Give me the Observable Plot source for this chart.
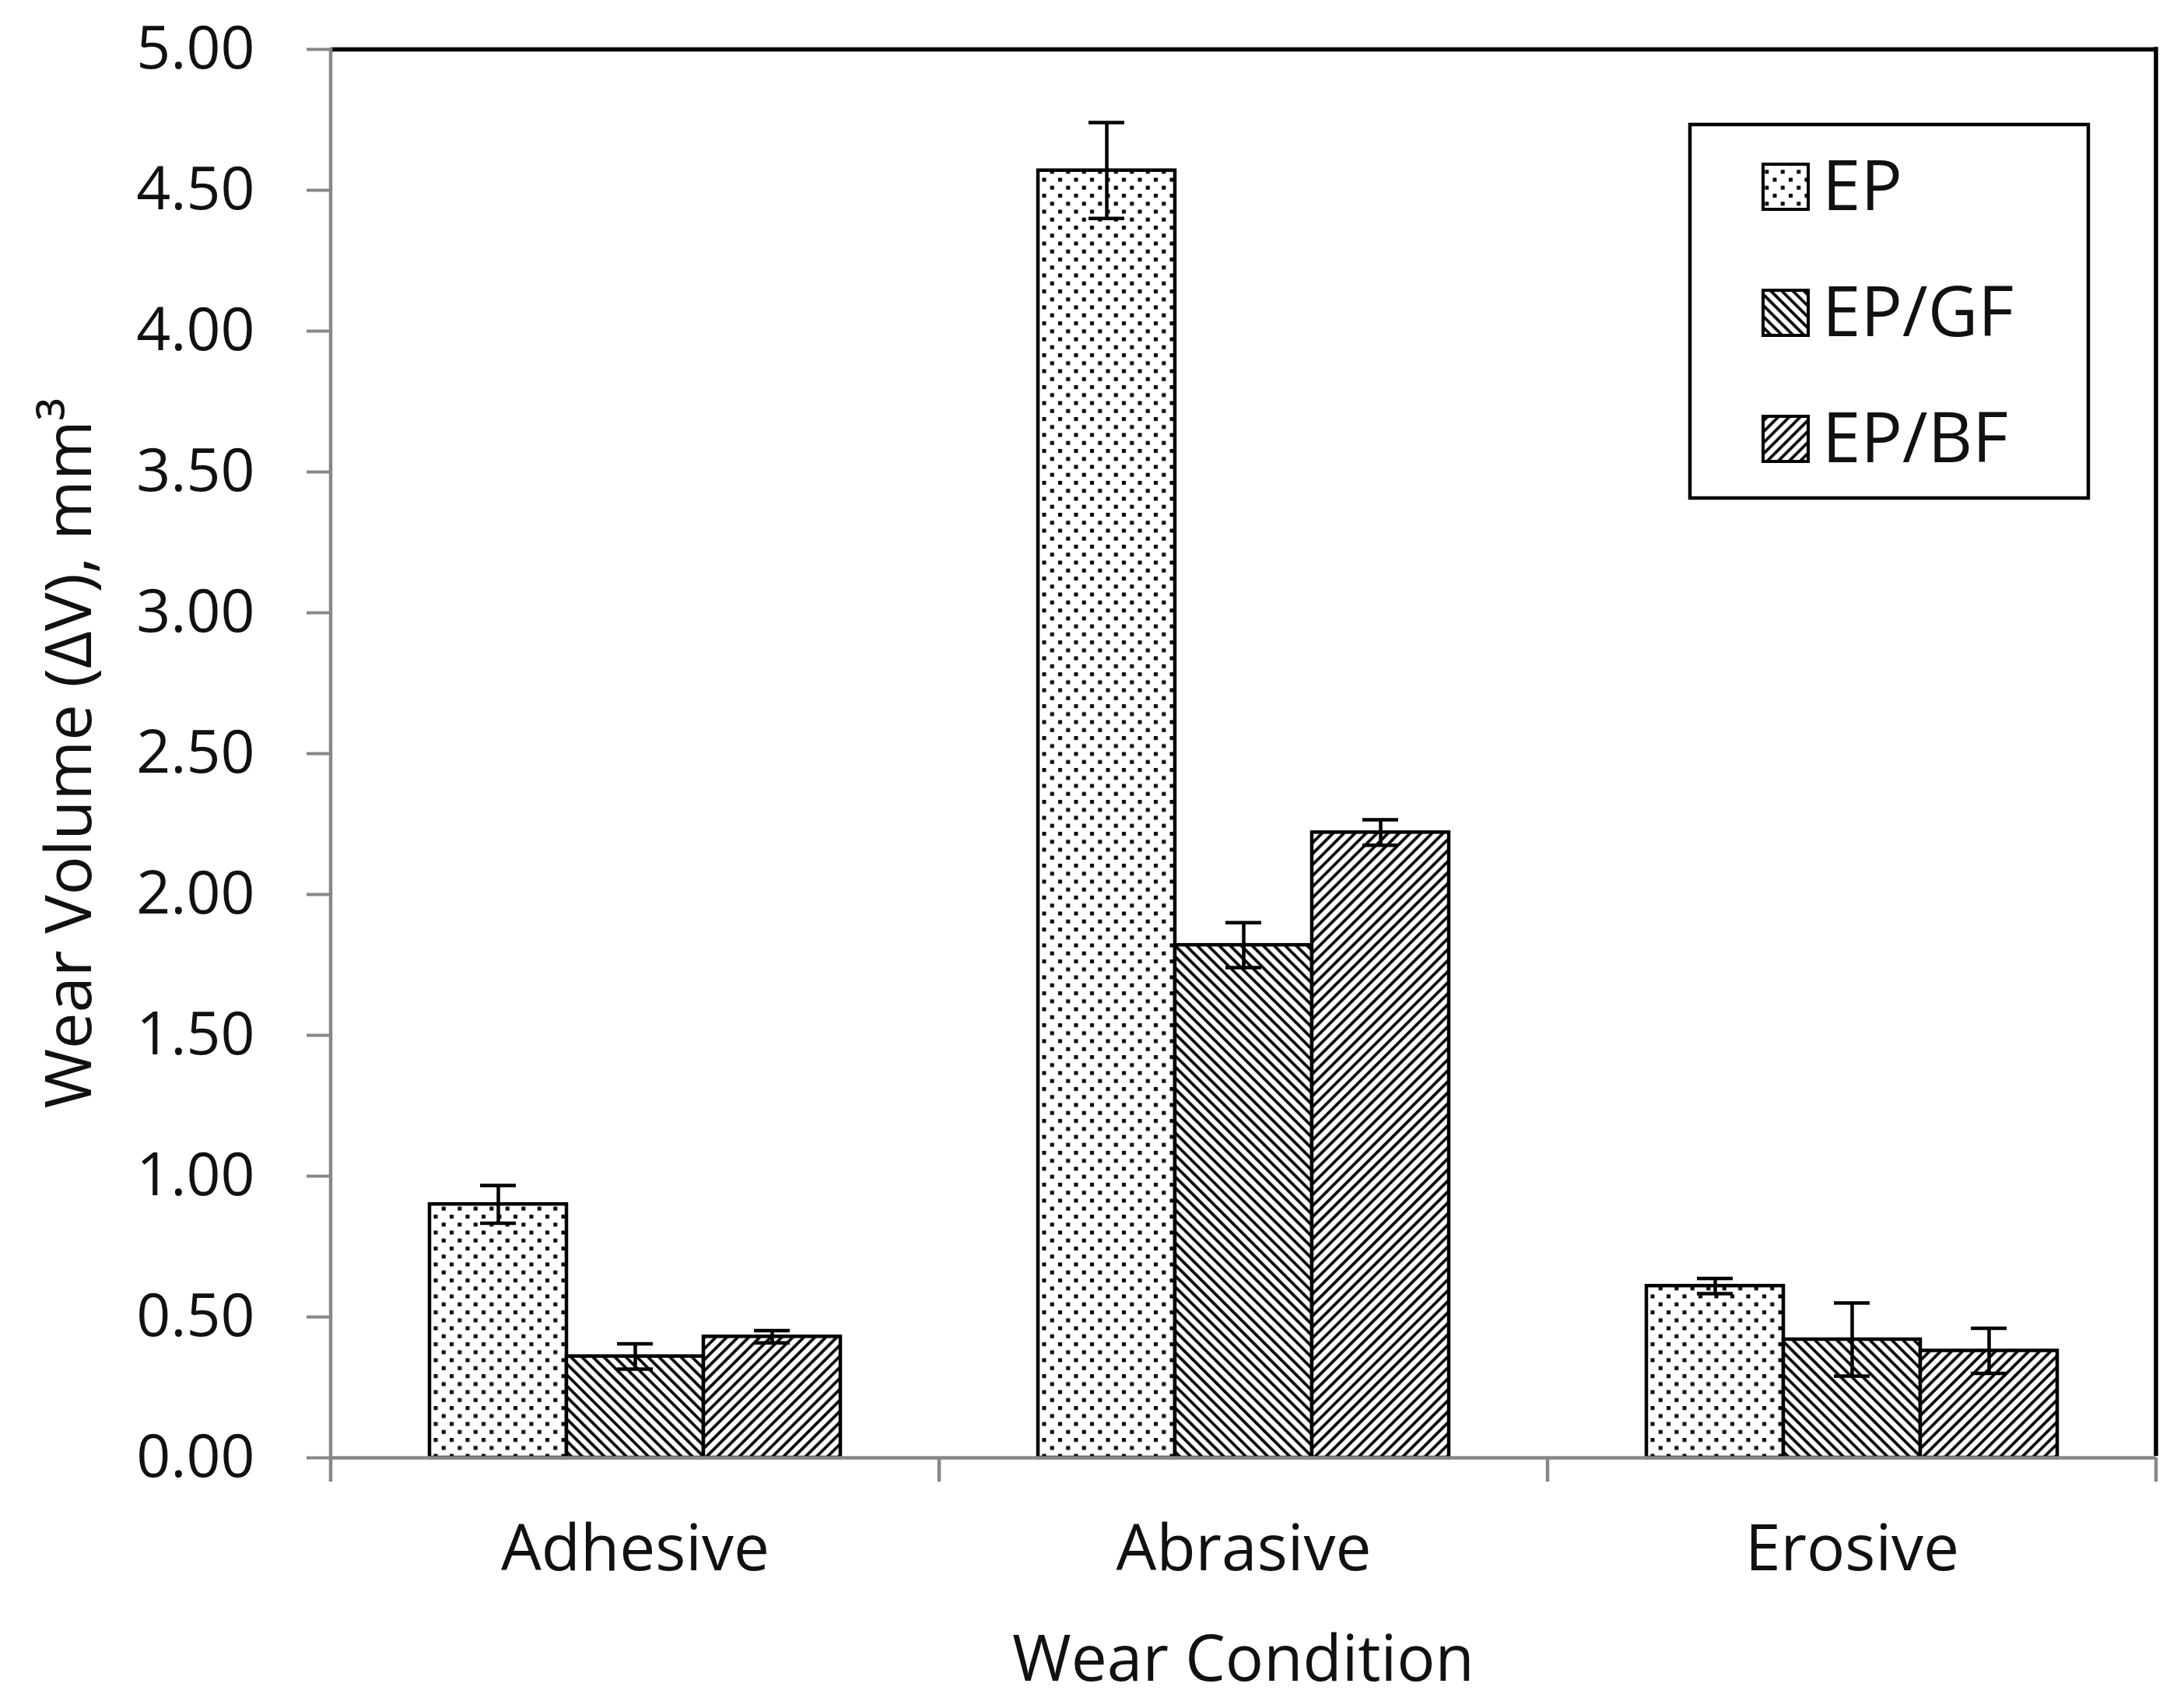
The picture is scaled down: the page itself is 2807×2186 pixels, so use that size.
<!DOCTYPE html>
<html>
<head>
<meta charset="utf-8">
<script src="https://cdn.jsdelivr.net/npm/d3@7"></script>
<script src="https://cdn.jsdelivr.net/npm/@observablehq/plot@0.6"></script>
<style>
  html, body { margin: 0; padding: 0; background: white; }
  #chart { position: relative; width: 2807px; height: 2186px; }
</style>
</head>
<body>
<svg width="0" height="0" style="position:absolute">
  <defs>
    <pattern id="pDots" patternUnits="userSpaceOnUse" width="20.5" height="20.5">
      <rect width="20.5" height="20.5" fill="white"/>
      <rect x="3" y="3" width="5" height="5" fill="black"/>
      <rect x="13.25" y="13.25" width="5" height="5" fill="black"/>
    </pattern>
    <pattern id="pDown" patternUnits="userSpaceOnUse" width="10" height="10" patternTransform="rotate(-45)">
      <rect width="10" height="10" fill="white"/>
      <line x1="5" y1="-1" x2="5" y2="11" stroke="black" stroke-width="3.7"/>
    </pattern>
    <pattern id="pUp" patternUnits="userSpaceOnUse" width="10" height="10" patternTransform="rotate(45)">
      <rect width="10" height="10" fill="white"/>
      <line x1="5" y1="-1" x2="5" y2="11" stroke="black" stroke-width="3.7"/>
    </pattern>
  </defs>
</svg>
<div id="chart"></div>
<script>
// ---- data ----
const categories = ["Adhesive", "Abrasive", "Erosive"];
const series = ["EP", "EP/GF", "EP/BF"];
const epValues = [0.90, 4.57, 0.61];
const gfValues = [0.36, 1.82, 0.42];
const bfValues = [0.43, 2.22, 0.38];
const epErrors = [0.067, 0.17, 0.027];
const gfErrors = [0.045, 0.08, 0.13];
const bfErrors = [0.022, 0.045, 0.08];
const yTicks = [0, 0.5, 1, 1.5, 2, 2.5, 3, 3.5, 4, 4.5, 5];
const patternFills = ["url(#pDots)", "url(#pDown)", "url(#pUp)"];
const xTitle = "Wear Condition";
const yTitle = "Wear Volume (ΔV), mm³";

const valuesBySeries = [epValues, gfValues, bfValues];
const errorsBySeries = [epErrors, gfErrors, bfErrors];
const data = categories.flatMap((c, i) => series.map((s, j) => ({
  category: c, series: s, value: valuesBySeries[j][i], error: errorsBySeries[j][i]
})));

const gray = "#878787";
const textColor = "#111";
const font = "'Open Sans', 'Noto Sans', sans-serif";

const plot = Plot.plot({
  width: 2807,
  height: 2186,
  marginLeft: 424,
  marginRight: 36,
  marginTop: 63,
  marginBottom: 313,
  style: { fontFamily: font, fontSize: "82px", color: textColor, background: "white" },
  fx: { domain: categories, paddingInner: 0, paddingOuter: 0, label: null, tickSize: 0, tickPadding: 86 },
  x: { domain: series, paddingInner: 0, paddingOuter: 0.72, align: 0.5, axis: null },
  y: { domain: [0, 5], axis: null },
  color: { domain: series, range: patternFills },
  marks: [
    Plot.axisY({ ticks: yTicks, tickFormat: d3.format(".2f"), tickSize: 31, tickPadding: 67,
                 stroke: gray, strokeWidth: 4, fill: textColor, label: null, fontSize: 77 }),
    Plot.barY(data, { fx: "category", x: "series", y: "value", fill: "series", stroke: "black", strokeWidth: 4.5 }),
    Plot.ruleX(data, { fx: "category", x: "series", y1: d => d.value - d.error, y2: d => d.value + d.error,
                       stroke: "black", strokeWidth: 4.5 }),
    Plot.tickY(data, { fx: "category", x: "series", y: d => d.value + d.error, stroke: "black", strokeWidth: 4.5,
                       insetLeft: 65, insetRight: 65 }),
    Plot.tickY(data, { fx: "category", x: "series", y: d => d.value - d.error, stroke: "black", strokeWidth: 4.5,
                       insetLeft: 65, insetRight: 65 }),
    Plot.ruleY([0], { stroke: gray, strokeWidth: 4.5 }),
    Plot.ruleY([5], { stroke: "black", strokeWidth: 5.5 })
  ]
});

document.getElementById("chart").appendChild(plot);

// ---- frame lines, category separators, titles, legend (positioned via the plot's scales) ----
const svg = d3.select(plot);
const fx = plot.scale("fx");
const y = plot.scale("y");
const bw = fx.bandwidth;
const x0 = fx.apply(categories[0]);
const xEnd = fx.apply(categories[categories.length - 1]) + bw;
const yTop = y.apply(5), yBase = y.apply(0);
const g = svg.append("g");

// left axis line (gray)
g.append("line").attr("x1", x0).attr("x2", x0).attr("y1", yTop - 2).attr("y2", yBase + 31)
  .attr("stroke", gray).attr("stroke-width", 4.5);
// category separator ticks
categories.forEach((c) => {
  const xx = fx.apply(c) + bw;
  g.append("line").attr("x1", xx).attr("x2", xx).attr("y1", yBase).attr("y2", yBase + 31)
    .attr("stroke", gray).attr("stroke-width", 4.5);
});
// right frame (black)
g.append("line").attr("x1", xEnd).attr("x2", xEnd).attr("y1", yTop - 2.75).attr("y2", yBase - 2)
  .attr("stroke", "black").attr("stroke-width", 5.5);

// axis titles
g.append("text").attr("x", (x0 + xEnd) / 2).attr("y", 2160).attr("text-anchor", "middle")
  .attr("font-family", font).attr("font-size", 82).attr("fill", textColor).text(xTitle);
g.append("text").attr("transform", `translate(117,${(yTop + yBase) / 2}) rotate(-90)`)
  .attr("text-anchor", "middle").attr("font-family", font).attr("font-size", 83)
  .attr("fill", textColor).text(yTitle);

// legend
const lg = svg.append("g").attr("text-anchor", "start");
lg.append("rect").attr("x", 2172).attr("y", 160).attr("width", 512).attr("height", 480)
  .attr("fill", "white").attr("stroke", "black").attr("stroke-width", 4.5);
series.forEach((s, i) => {
  const base = 270 + i * 162;
  lg.append("rect").attr("x", 2266).attr("y", base - 59).attr("width", 58).attr("height", 58)
    .attr("fill", patternFills[i]).attr("stroke", "black").attr("stroke-width", 4);
  lg.append("text").attr("x", 2342).attr("y", base).attr("text-anchor", "start")
    .attr("font-family", font).attr("font-size", 89)
    .attr("fill", textColor).text(s);
});
</script>
</body>
</html>
